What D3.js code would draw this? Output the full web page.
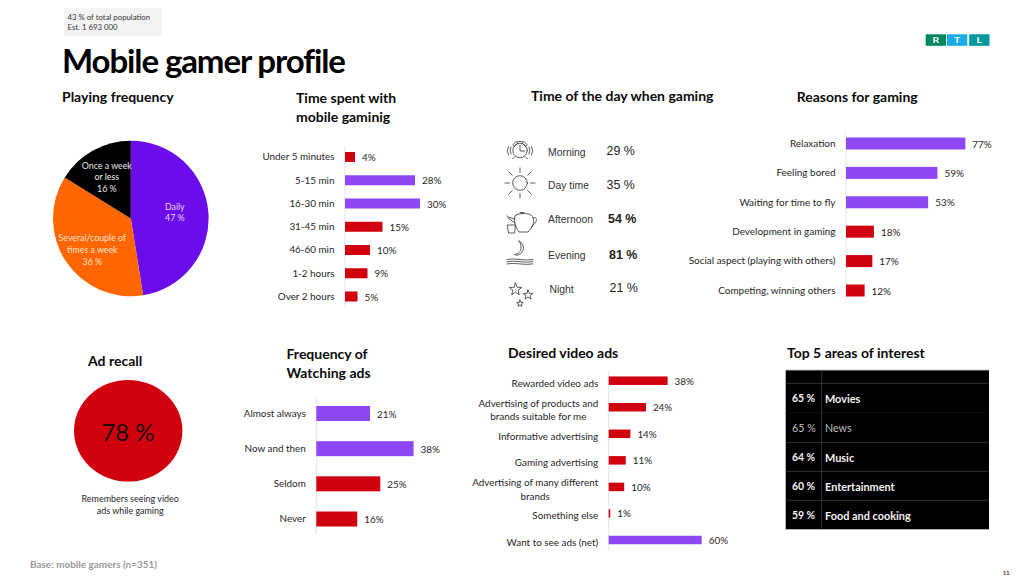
<!DOCTYPE html>
<html><head><meta charset="utf-8">
<script src="https://cdn.jsdelivr.net/npm/d3@7"></script>
<style>
html,body{margin:0;padding:0;background:#fff;overflow:hidden}
svg{display:block}
text{font-family:Lato,"Open Sans",sans-serif}
</style></head><body>
<div id="chart"></div>
<script>
// ---------- data ----------
const frequencyCategories = ["Daily", "Several/couple of times a week", "Once a week or less"];
const frequencyValues = [47, 36, 16];

const timeSpentCategories = ["Under 5 minutes","5-15 min","16-30 min","31-45 min","46-60 min","1-2 hours","Over 2 hours"];
const timeSpentValues = [4, 28, 30, 15, 10, 9, 5];
const timeSpentHighlights = ["5-15 min","16-30 min"];

const dayCategories = ["Morning","Day time","Afternoon","Evening","Night"];
const dayValues = [29, 35, 54, 81, 21];
const dayEmphasised = ["Afternoon","Evening"];

const reasonCategories = ["Relaxation","Feeling bored","Waiting for time to fly","Development in gaming","Social aspect (playing with others)","Competing, winning others"];
const reasonValues = [77, 59, 53, 18, 17, 12];
const reasonHighlights = ["Relaxation","Feeling bored","Waiting for time to fly"];

const adRecallValue = 78;

const watchCategories = ["Almost always","Now and then","Seldom","Never"];
const watchValues = [21, 38, 25, 16];
const watchHighlights = ["Almost always","Now and then"];

const desiredCategories = ["Rewarded video ads","Advertising of products and|brands suitable for me","Informative advertising","Gaming advertising","Advertising of many different|brands","Something else","Want to see ads (net)"];
const desiredValues = [38, 24, 14, 11, 10, 1, 60];
const desiredHighlights = ["Want to see ads (net)"];

const interestCategories = ["Movies","News","Music","Entertainment","Food and cooking"];
const interestValues = [65, 65, 64, 60, 59];
const interestPlain = ["News"];

// ---------- styling ----------
const PURPLE = "#8f47f5", RED = "#d0000f", TEXT = "#262626", TITLE = "#0a0a0a";
const svg = d3.select("#chart").append("svg").attr("width",1024).attr("height",576);

function multi(g, x, y, lines, lh, o){
  const t = g.append("text").attr("x",x).attr("y",y)
    .attr("font-size",o.size).attr("fill",o.fill||TEXT)
    .attr("font-weight",o.weight||400).attr("text-anchor",o.anchor||"start")
    .attr("dominant-baseline","central");
  if(o.spacing) t.attr("letter-spacing",o.spacing);
  if(o.family) t.style("font-family",o.family);
  lines.forEach((l,i)=>t.append("tspan").attr("x",x).attr("y",y+i*lh).text(l));
  return t;
}
function title(x,y,lines,lh){ multi(svg,x,y-0.8,lines,lh||18.5,{size:14,weight:700,fill:TITLE}); }

// header
svg.append("rect").attr("x",64).attr("y",8).attr("width",98).attr("height",28).attr("fill","#f3f3f3");
multi(svg,67.5,16.5,["43 % of total population","Est. 1 693 000"],10.3,{size:7.8,fill:"#333"});
multi(svg,62,60,["Mobile gamer profile"],0,{size:33,weight:700,fill:"#000",spacing:-1.1});

// logo
[["R","#00875f",925.7],["T","#19ade6",947],["L","#00989f",969.2]].forEach(([c,f,x])=>{
  svg.append("rect").attr("x",x).attr("y",34.3).attr("width",20.3).attr("height",11.5).attr("fill",f);
  svg.append("text").attr("x",x+10.1).attr("y",40.2).attr("text-anchor","middle").attr("dominant-baseline","central")
    .attr("font-size",8).attr("font-weight",700).attr("fill","#fff").attr("transform",`translate(${(x+10.1)*-0.3},0) scale(1.3,1)`).text(c);
});

// titles
title(62,96.7,["Playing frequency"]);
title(296,98,["Time spent with","mobile gaminig"]);
title(531,96,["Time of the day when gaming"]);
title(796.7,96.5,["Reasons for gaming"]);
title(88,360.5,["Ad recall"]);
title(286.5,354,["Frequency of","Watching ads"]);
title(508,353,["Desired video ads"]);
title(787,353,["Top 5 areas of interest"]);

// pie
const pieG = svg.append("g").attr("transform","translate(130.8,218.5)");
const pieColor = d3.scaleOrdinal().domain(frequencyCategories).range(["#6a0dea","#ff6600","#000000"]);
const pie = d3.pie().sort(null).value((d,i)=>frequencyValues[i]);
const arc = d3.arc().innerRadius(0).outerRadius(77.8);
pieG.selectAll("path").data(pie(frequencyCategories)).join("path")
  .attr("d",arc).attr("fill",d=>pieColor(d.data));
const pieFill = ["#e6d5fc","#ffe3cf","#e8e8e8"];
const pieLabels = [["Daily",`${frequencyValues[0]} %`],["Several/couple of","times a week",`${frequencyValues[1]} %`],["Once a week","or less",`${frequencyValues[2]} %`]];
const pieAt = [[44,-13],[-38.5,18.7],[-24,-54]];
pieLabels.forEach((l,i)=>multi(pieG,pieAt[i][0],pieAt[i][1],l,11.9,{size:8.8,anchor:"middle",fill:pieFill[i]}));

// bar charts
function bars(o){
  const g = svg.append("g");
  const x = d3.scaleLinear().domain([0,100]).range([o.x0,o.x0+o.perc*100]);
  const y = d3.scalePoint().domain(o.cats).range([o.yFirst,o.yLast]);
  g.append("line").attr("x1",o.x0).attr("x2",o.x0).attr("y1",o.yFirst-o.pad).attr("y2",o.yLast+o.pad)
    .attr("stroke","#e4e4e4").attr("stroke-width",1);
  g.selectAll("rect").data(o.cats).join("rect")
    .attr("x",x(0)).attr("y",d=>y(d)-o.h/2)
    .attr("width",(d,i)=>x(o.vals[i])-x(0)).attr("height",o.h)
    .attr("fill",d=>o.hi.includes(d)?PURPLE:RED);
  o.cats.forEach((c,i)=>{
    const ls=c.split("|");
    const right=o.x0-10.5, top=y(c)+(o.labDy||0)-(ls.length-1)*6.65;
    const first=multi(g,right,top,[ls[0]],0,{size:o.size,anchor:"end"});
    if(ls.length>1){
      const w=first.node().getComputedTextLength();
      multi(g,right-w/2,top+13.3,[ls[1]],0,{size:o.size,anchor:"middle"});
    }
    multi(g,x(o.vals[i])+7,y(c),[o.vals[i]+"%"],0,{size:o.size});
  });
}
bars({cats:timeSpentCategories,vals:timeSpentValues,hi:timeSpentHighlights,x0:345,perc:2.5,yFirst:157,yLast:296.5,h:10,pad:11,size:9.9,labDy:-0.7});
bars({cats:reasonCategories,vals:reasonValues,hi:reasonHighlights,x0:846,perc:1.55,yFirst:143.5,yLast:290.5,h:12,pad:11,size:9.95,labDy:-0.7});
bars({cats:watchCategories,vals:watchValues,hi:watchHighlights,x0:316.3,perc:2.56,yFirst:413.5,yLast:519,h:15,pad:15,size:9.9,labDy:-0.7});
bars({cats:desiredCategories,vals:desiredValues,hi:desiredHighlights,x0:608.7,perc:1.55,yFirst:380.7,yLast:540,h:8.5,pad:10,size:9.9,labDy:2});

// time of day rows
const dayNudge = {Morning:0,"Day time":0,Afternoon:0,Evening:0,Night:1.5};
const dayValX = {Morning:606.5,"Day time":606.5,Afternoon:608,Evening:609,Night:609.5};
dayCategories.forEach((c,i)=>{
  const yy=[151.5,185,219,255,288.5][i];
  multi(svg,548+dayNudge[c],yy,[c],0,{size:10.4,fill:"#333",family:"'Liberation Sans',Arial,sans-serif"});
  multi(svg,dayValX[c],yy-0.5,[dayValues[i]+" %"],0,{size:12.4,fill:"#222",weight:dayEmphasised.includes(c)?700:400,family:"'Liberation Sans',Arial,sans-serif"});
});

// icons
const ic = svg.append("g").attr("fill","none").attr("stroke","#333").attr("stroke-width",0.8).attr("stroke-linecap","round").attr("stroke-linejoin","round");
// alarm clock
ic.append("circle").attr("cx",520).attr("cy",150.5).attr("r",7.2);
ic.append("path").attr("d","M520 145.5V151H524.5M514.5 157L512.5 159M525.5 157L527.5 159M511 147Q509 150.5 511 154M529 147Q531 150.5 529 154M508.5 146.5Q506 150.5 508.5 155M531.5 146.5Q534 150.5 531.5 155");
ic.append("path").attr("d","M513 144.5L516 141.5L518 143L514.5 146ZM527 144.5L524 141.5L522 143L525.5 146ZM518 141.5H522");
// sun
ic.append("circle").attr("cx",520).attr("cy",183).attr("r",7.3);
d3.range(8).forEach(i=>{
  const a=i*Math.PI/4, r1=i%2?11:10.5, r2=i%2?16:15;
  ic.append("line").attr("x1",520+r1*Math.cos(a)).attr("y1",183+r1*Math.sin(a)).attr("x2",520+r2*Math.cos(a)).attr("y2",183+r2*Math.sin(a));
});
// teapot
ic.append("path").attr("d","M516 215C513 218 514 225 519 232H528C533 228 536 219 531 215C528 213 519 213 516 215ZM524 212.5H520M522 212.5V214M533 218C538 216 538 222 531 227M515 219L509 217.5L507 216M508 218L515 223");
ic.append("path").attr("d","M507.5 225H515.5L514.5 233H509Z");
// moon + waves
ic.append("path").attr("d","M519 241C524 243 525.5 250 520 254C518 255.5 516 255.5 514.5 254.5C518 254 521 252 521 248C521 245 520.5 243 519 241Z");
d3.range(3).forEach(i=>ic.append("path").attr("d",`M507 ${259.5+i*2.2}Q513.5 ${258.5+i*2.2} 520 ${259.5+i*2.2}T533 ${259.5+i*2.2}`));
// stars
function star(cx,cy,r){
  const p=d3.range(10).map(i=>{const a=-Math.PI/2+i*Math.PI/5,q=i%2?r*0.42:r;return [cx+q*Math.cos(a),cy+q*Math.sin(a)];});
  ic.append("path").attr("d",d3.line()(p)+"Z");
}
star(515.5,289.5,6.5); star(528,295,5); star(520,303.5,3.5);

// table
const tx=785.7,tw=203.3,tSplit=821.7;
const rowTop=[383.3,412.7,442.3,471.3,500.3,529.3];
svg.append("rect").attr("x",tx).attr("y",370.3).attr("width",tw).attr("height",159).attr("fill","#000");
const lines=svg.append("g").attr("stroke","#3d3d3d").attr("stroke-width",0.8);
lines.append("line").attr("x1",tSplit).attr("x2",tSplit).attr("y1",370.3).attr("y2",529.3);
[383.3,442.3,471.3,500.3].forEach(y=>lines.append("line").attr("x1",tx).attr("x2",tx+tw).attr("y1",y).attr("y2",y));
svg.append("line").attr("x1",tx).attr("x2",tx+tw).attr("y1",370.3).attr("y2",370.3).attr("stroke","#666").attr("stroke-width",0.7);
svg.append("line").attr("x1",tx).attr("x2",tx+tw).attr("y1",412.7).attr("y2",412.7).attr("stroke","#161616").attr("stroke-width",0.7);
interestCategories.forEach((c,i)=>{
  const y=(rowTop[i]+rowTop[i+1])/2-0.3, plain=interestPlain.includes(c);
  const o={fill:plain?"#bdbdbd":"#f2f2f2",weight:plain?400:700};
  multi(svg,792,y,[interestValues[i]+" %"],0,{...o,size:plain?10.7:10.4});
  multi(svg,825,y,[c],0,{...o,size:plain?10.7:10.9});
});

// ad recall
svg.append("ellipse").attr("cx",128.2).attr("cy",430.8).attr("rx",54.2).attr("ry",50.8).attr("fill",RED);
multi(svg,128,431,[adRecallValue+" %"],0,{size:24,anchor:"middle",fill:"#1c0a0a"});
multi(svg,130.2,498,["Remembers seeing video","ads while gaming"],11.7,{size:8.95,anchor:"middle"});

// footer
multi(svg,30,563.5,["Base: mobile gamers (n=351)"],0,{size:9.95,weight:700,fill:"#9a9a9a"});
multi(svg,1003,572.5,["11"],0,{size:5.5,weight:700,fill:"#222"});
</script>
</body></html>
